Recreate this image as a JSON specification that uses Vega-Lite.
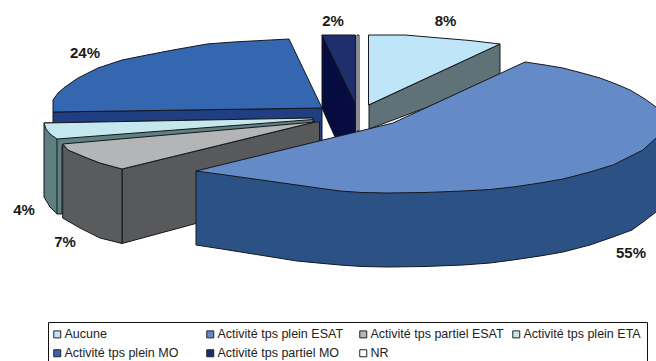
{
  "$schema": "https://vega.github.io/schema/vega-lite/v6.json",
  "width": 656,
  "height": 361,
  "padding": 0,
  "autosize": {"type": "none"},
  "background": "white",
  "config": {"view": {"stroke": null}},
  "layer": [
    {
      "data": {"values": [
        {"part":"Aucune, flanc","i":1,"x":369,"y":105},{"part":"Aucune, flanc","i":2,"x":500,"y":44},{"part":"Aucune, flanc","i":3,"x":500,"y":80},{"part":"Aucune, flanc","i":4,"x":369,"y":129},{"part":"Aucune, flanc","i":5,"x":369,"y":105},
        {"part":"Aucune","i":1,"x":368.5,"y":35},{"part":"Aucune","i":2,"x":405,"y":35},{"part":"Aucune","i":3,"x":440,"y":38},{"part":"Aucune","i":4,"x":470,"y":40.5},{"part":"Aucune","i":5,"x":500,"y":44},{"part":"Aucune","i":6,"x":368.5,"y":105},{"part":"Aucune","i":7,"x":368.5,"y":35},
        {"part":"NR","i":1,"x":357,"y":35},{"part":"NR","i":2,"x":359,"y":35},{"part":"NR","i":3,"x":359,"y":131},{"part":"NR","i":4,"x":357,"y":131},{"part":"NR","i":5,"x":357,"y":35},
        {"part":"Activité tps partiel MO, flanc","i":1,"x":322,"y":35},{"part":"Activité tps partiel MO, flanc","i":2,"x":355.5,"y":104},{"part":"Activité tps partiel MO, flanc","i":3,"x":355.5,"y":133},{"part":"Activité tps partiel MO, flanc","i":4,"x":335,"y":137},{"part":"Activité tps partiel MO, flanc","i":5,"x":322,"y":108},{"part":"Activité tps partiel MO, flanc","i":6,"x":322,"y":35},
        {"part":"Activité tps partiel MO","i":1,"x":322,"y":35},{"part":"Activité tps partiel MO","i":2,"x":355.5,"y":35},{"part":"Activité tps partiel MO","i":3,"x":355.5,"y":104},{"part":"Activité tps partiel MO","i":4,"x":322,"y":35},
        {"part":"Activité tps plein MO, flanc","i":1,"x":53,"y":112},{"part":"Activité tps plein MO, flanc","i":2,"x":322,"y":108},{"part":"Activité tps plein MO, flanc","i":3,"x":322,"y":143},{"part":"Activité tps plein MO, flanc","i":4,"x":53,"y":130},{"part":"Activité tps plein MO, flanc","i":5,"x":53,"y":112},
        {"part":"Activité tps plein MO","i":1,"x":289,"y":39},{"part":"Activité tps plein MO","i":2,"x":322,"y":108},{"part":"Activité tps plein MO","i":3,"x":53,"y":112},{"part":"Activité tps plein MO","i":4,"x":53,"y":100},{"part":"Activité tps plein MO","i":5,"x":58,"y":93},{"part":"Activité tps plein MO","i":6,"x":65,"y":87},{"part":"Activité tps plein MO","i":7,"x":78,"y":78},{"part":"Activité tps plein MO","i":8,"x":98,"y":68},{"part":"Activité tps plein MO","i":9,"x":122,"y":60},{"part":"Activité tps plein MO","i":10,"x":147,"y":55},{"part":"Activité tps plein MO","i":11,"x":173,"y":50},{"part":"Activité tps plein MO","i":12,"x":207,"y":44},{"part":"Activité tps plein MO","i":13,"x":233,"y":42},{"part":"Activité tps plein MO","i":14,"x":289,"y":39},
        {"part":"Activité tps plein ETA, flanc","i":1,"x":44,"y":123},{"part":"Activité tps plein ETA, flanc","i":2,"x":313,"y":118},{"part":"Activité tps plein ETA, flanc","i":3,"x":313,"y":131},{"part":"Activité tps plein ETA, flanc","i":4,"x":62,"y":146},{"part":"Activité tps plein ETA, flanc","i":5,"x":62,"y":214},{"part":"Activité tps plein ETA, flanc","i":6,"x":57,"y":214},{"part":"Activité tps plein ETA, flanc","i":7,"x":50,"y":207},{"part":"Activité tps plein ETA, flanc","i":8,"x":44,"y":197},{"part":"Activité tps plein ETA, flanc","i":9,"x":44,"y":123},
        {"part":"Activité tps plein ETA, arête","i":1,"x":57,"y":139},{"part":"Activité tps plein ETA, arête","i":2,"x":57,"y":214},
        {"part":"Activité tps plein ETA","i":1,"x":44,"y":123},{"part":"Activité tps plein ETA","i":2,"x":313,"y":118},{"part":"Activité tps plein ETA","i":3,"x":313,"y":119.5},{"part":"Activité tps plein ETA","i":4,"x":57,"y":139},{"part":"Activité tps plein ETA","i":5,"x":50,"y":134},{"part":"Activité tps plein ETA","i":6,"x":46,"y":129},{"part":"Activité tps plein ETA","i":7,"x":44,"y":123},
        {"part":"Activité tps partiel ESAT, droite","i":1,"x":122,"y":169},{"part":"Activité tps partiel ESAT, droite","i":2,"x":315,"y":122},{"part":"Activité tps partiel ESAT, droite","i":3,"x":319.5,"y":122},{"part":"Activité tps partiel ESAT, droite","i":4,"x":319.5,"y":190},{"part":"Activité tps partiel ESAT, droite","i":5,"x":122,"y":243.5},{"part":"Activité tps partiel ESAT, droite","i":6,"x":122,"y":169},
        {"part":"Activité tps partiel ESAT, gauche","i":1,"x":62.7,"y":144},{"part":"Activité tps partiel ESAT, gauche","i":2,"x":68,"y":150},{"part":"Activité tps partiel ESAT, gauche","i":3,"x":87,"y":158},{"part":"Activité tps partiel ESAT, gauche","i":4,"x":100,"y":163},{"part":"Activité tps partiel ESAT, gauche","i":5,"x":122,"y":169},{"part":"Activité tps partiel ESAT, gauche","i":6,"x":122,"y":243.5},{"part":"Activité tps partiel ESAT, gauche","i":7,"x":100,"y":238},{"part":"Activité tps partiel ESAT, gauche","i":8,"x":80,"y":228},{"part":"Activité tps partiel ESAT, gauche","i":9,"x":62.7,"y":218},{"part":"Activité tps partiel ESAT, gauche","i":10,"x":62.7,"y":144},
        {"part":"Activité tps partiel ESAT","i":1,"x":62.7,"y":144},{"part":"Activité tps partiel ESAT","i":2,"x":315,"y":122},{"part":"Activité tps partiel ESAT","i":3,"x":122,"y":169},{"part":"Activité tps partiel ESAT","i":4,"x":100,"y":163},{"part":"Activité tps partiel ESAT","i":5,"x":87,"y":158},{"part":"Activité tps partiel ESAT","i":6,"x":68,"y":150},{"part":"Activité tps partiel ESAT","i":7,"x":62.7,"y":144},
        {"part":"Activité tps plein ESAT, flanc","i":1,"x":196,"y":171},{"part":"Activité tps plein ESAT, flanc","i":2,"x":662,"y":133},{"part":"Activité tps plein ESAT, flanc","i":3,"x":662,"y":205},{"part":"Activité tps plein ESAT, flanc","i":4,"x":656,"y":212},{"part":"Activité tps plein ESAT, flanc","i":5,"x":643,"y":222},{"part":"Activité tps plein ESAT, flanc","i":6,"x":632,"y":230},{"part":"Activité tps plein ESAT, flanc","i":7,"x":613,"y":237},{"part":"Activité tps plein ESAT, flanc","i":8,"x":590,"y":245},{"part":"Activité tps plein ESAT, flanc","i":9,"x":563,"y":252},{"part":"Activité tps plein ESAT, flanc","i":10,"x":540,"y":256},{"part":"Activité tps plein ESAT, flanc","i":11,"x":513,"y":260},{"part":"Activité tps plein ESAT, flanc","i":12,"x":490,"y":263},{"part":"Activité tps plein ESAT, flanc","i":13,"x":463,"y":265},{"part":"Activité tps plein ESAT, flanc","i":14,"x":425,"y":266.5},{"part":"Activité tps plein ESAT, flanc","i":15,"x":387,"y":267},{"part":"Activité tps plein ESAT, flanc","i":16,"x":362,"y":266.5},{"part":"Activité tps plein ESAT, flanc","i":17,"x":340,"y":265},{"part":"Activité tps plein ESAT, flanc","i":18,"x":318,"y":263},{"part":"Activité tps plein ESAT, flanc","i":19,"x":297,"y":261},{"part":"Activité tps plein ESAT, flanc","i":20,"x":272,"y":257},{"part":"Activité tps plein ESAT, flanc","i":21,"x":247,"y":253},{"part":"Activité tps plein ESAT, flanc","i":22,"x":222,"y":249},{"part":"Activité tps plein ESAT, flanc","i":23,"x":196,"y":245},{"part":"Activité tps plein ESAT, flanc","i":24,"x":196,"y":171},
        {"part":"Activité tps plein ESAT","i":1,"x":525,"y":62},{"part":"Activité tps plein ESAT","i":2,"x":545,"y":65},{"part":"Activité tps plein ESAT","i":3,"x":563,"y":68},{"part":"Activité tps plein ESAT","i":4,"x":582,"y":73},{"part":"Activité tps plein ESAT","i":5,"x":600,"y":78},{"part":"Activité tps plein ESAT","i":6,"x":616,"y":84},{"part":"Activité tps plein ESAT","i":7,"x":630,"y":90},{"part":"Activité tps plein ESAT","i":8,"x":645,"y":99},{"part":"Activité tps plein ESAT","i":9,"x":656,"y":107},{"part":"Activité tps plein ESAT","i":10,"x":662,"y":112},{"part":"Activité tps plein ESAT","i":11,"x":662,"y":133},{"part":"Activité tps plein ESAT","i":12,"x":656,"y":138},{"part":"Activité tps plein ESAT","i":13,"x":643,"y":150},{"part":"Activité tps plein ESAT","i":14,"x":627,"y":158},{"part":"Activité tps plein ESAT","i":15,"x":613,"y":165},{"part":"Activité tps plein ESAT","i":16,"x":590,"y":172},{"part":"Activité tps plein ESAT","i":17,"x":563,"y":179},{"part":"Activité tps plein ESAT","i":18,"x":540,"y":183},{"part":"Activité tps plein ESAT","i":19,"x":513,"y":187},{"part":"Activité tps plein ESAT","i":20,"x":490,"y":189.5},{"part":"Activité tps plein ESAT","i":21,"x":463,"y":191},{"part":"Activité tps plein ESAT","i":22,"x":425,"y":192.5},{"part":"Activité tps plein ESAT","i":23,"x":387,"y":193},{"part":"Activité tps plein ESAT","i":24,"x":362,"y":192.5},{"part":"Activité tps plein ESAT","i":25,"x":340,"y":191},{"part":"Activité tps plein ESAT","i":26,"x":318,"y":188},{"part":"Activité tps plein ESAT","i":27,"x":297,"y":185},{"part":"Activité tps plein ESAT","i":28,"x":272,"y":181.5},{"part":"Activité tps plein ESAT","i":29,"x":247,"y":178},{"part":"Activité tps plein ESAT","i":30,"x":222,"y":174.5},{"part":"Activité tps plein ESAT","i":31,"x":196,"y":171},{"part":"Activité tps plein ESAT","i":32,"x":393,"y":123},{"part":"Activité tps plein ESAT","i":33,"x":525,"y":62}
      ]},
      "mark": {"type": "line", "filled": true, "stroke": "#15171c", "strokeWidth": 1, "strokeJoin": "round", "clip": false},
      "encoding": {
        "x": {"field": "x", "type": "quantitative", "scale": {"domain": [0, 656], "range": [0, 656], "nice": false, "zero": false}, "axis": null},
        "y": {"field": "y", "type": "quantitative", "scale": {"domain": [0, 361], "range": [0, 361], "nice": false, "zero": false}, "axis": null},
        "order": {"field": "i", "type": "quantitative"},
        "color": {
          "field": "part",
          "type": "nominal",
          "scale": {
            "domain": ["Aucune", "Activité tps plein ESAT", "Activité tps partiel ESAT", "Activité tps plein ETA", "Activité tps plein MO", "Activité tps partiel MO", "NR", "Aucune, flanc", "Activité tps plein ESAT, flanc", "Activité tps partiel ESAT, droite", "Activité tps partiel ESAT, gauche", "Activité tps plein ETA, flanc", "Activité tps plein ETA, arête", "Activité tps plein MO, flanc", "Activité tps partiel MO, flanc"],
            "range": ["#bfe6f8", "#648bc8", "#b4b5b7", "#c5e8ef", "#3566b0", "#1f2f6e", "#ffffff", "#5f7278", "#2c5285", "#58595b", "#595b5d", "#5e8080", "#5e8080", "#1f3f82", "#060c3f"]
          },
          "legend": {
            "values": ["Aucune", "Activité tps plein MO", "Activité tps plein ESAT", "Activité tps partiel MO", "Activité tps partiel ESAT", "NR", "Activité tps plein ETA"],
            "title": null,
            "orient": "none",
            "legendX": 48,
            "legendY": 322,
            "columns": 4,
            "gridAlign": "all",
            "symbolType": "square",
            "symbolSize": 49,
            "symbolOffset": -3,
            "symbolStrokeColor": "#222",
            "symbolStrokeWidth": 1,
            "labelFont": "Liberation Sans",
            "labelFontSize": 12.5,
            "labelColor": "#222",
            "labelLimit": 200,
            "labelOffset": 1,
            "rowPadding": 6,
            "columnPadding": 6,
            "strokeColor": "#111",
            "fillColor": "white",
            "padding": 6
          }
        }
      }
    },
    {
      "data": {"values": [
        {"pct": "8%", "x": 445.5, "y": 21},
        {"pct": "2%", "x": 333, "y": 21},
        {"pct": "24%", "x": 85, "y": 53},
        {"pct": "4%", "x": 24, "y": 210},
        {"pct": "7%", "x": 65, "y": 242},
        {"pct": "55%", "x": 631, "y": 253}
      ]},
      "mark": {"type": "text", "font": "Liberation Sans", "fontWeight": "bold", "fontSize": 15, "color": "#1a1a1a", "align": "center", "baseline": "middle"},
      "encoding": {
        "x": {"field": "x", "type": "quantitative", "scale": {"domain": [0, 656], "range": [0, 656], "nice": false, "zero": false}, "axis": null},
        "y": {"field": "y", "type": "quantitative", "scale": {"domain": [0, 361], "range": [0, 361], "nice": false, "zero": false}, "axis": null},
        "text": {"field": "pct"}
      }
    }
  ]
}
